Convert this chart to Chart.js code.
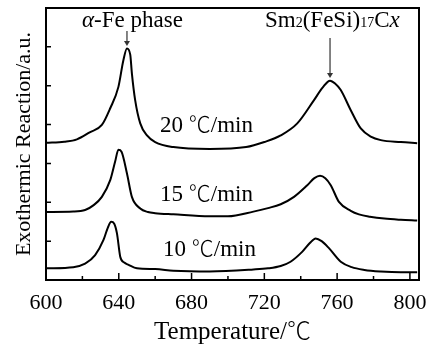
<!DOCTYPE html>
<html>
<head>
<meta charset="utf-8">
<script src="https://cdn.jsdelivr.net/npm/chart.js@4.4.1/dist/chart.umd.min.js"></script>
<style>
  body { margin: 0; background: #fff; }
  #wrap { width: 431px; height: 345px; }
</style>
</head>
<body>
<div id="wrap"><canvas id="dsc" width="431" height="345"></canvas></div>
<script>
// x tick labels (temperature, deg C)
const xTicks = [600, 640, 680, 720, 760, 800];

// 20 C/min curve
const temp20 = [600, 610, 617, 624, 630.7, 635.3, 639.8, 642.5, 644.5, 646.3, 647.2, 649, 651.8, 655.5, 660, 670, 690, 710, 720, 729, 738.1, 747.3, 752, 756.1, 759, 762, 767.5, 773, 778.5, 784, 795, 804];
const heat20 = [3.53, 3.56, 3.62, 3.80, 3.99, 4.42, 4.97, 5.65, 5.96, 5.80, 5.32, 4.63, 4.03, 3.72, 3.55, 3.42, 3.37, 3.42, 3.55, 3.72, 4.03, 4.63, 4.95, 5.13, 5.05, 4.89, 4.37, 3.90, 3.69, 3.60, 3.55, 3.52];

// 15 C/min curve
const temp15 = [600, 615, 621.5, 626, 630.7, 635.3, 638, 639.8, 641.5, 644.5, 647.2, 651.8, 656, 660, 670, 690, 700, 714, 722, 729, 736.3, 743.6, 747.5, 750.6, 753.5, 756.5, 761, 767.5, 772, 778, 786, 795, 804];
const heat15 = [1.75, 1.76, 1.80, 1.92, 2.14, 2.57, 3.05, 3.35, 3.30, 2.74, 2.14, 1.84, 1.75, 1.72, 1.69, 1.64, 1.64, 1.76, 1.85, 1.95, 2.14, 2.44, 2.62, 2.68, 2.62, 2.44, 2.01, 1.78, 1.69, 1.63, 1.58, 1.55, 1.53];

// 10 C/min curve
const temp10 = [600, 615, 621.5, 627, 631.6, 634, 635.8, 637.5, 639, 640.8, 643, 645.4, 650, 660, 670, 690, 714, 722, 729, 734.4, 740.9, 745, 748.2, 751.5, 755.5, 762, 768, 775, 784, 795, 804];
const heat10 = [0.30, 0.33, 0.42, 0.64, 1.03, 1.35, 1.50, 1.45, 1.20, 0.60, 0.45, 0.39, 0.30, 0.28, 0.24, 0.22, 0.27, 0.30, 0.36, 0.47, 0.73, 0.95, 1.07, 1.00, 0.82, 0.47, 0.33, 0.26, 0.22, 0.20, 0.20];

// peak markers
const fePeak = 644.5;
const smPeak = 756.1;

const SERIF = '"Liberation Serif", serif';
const DEG = '"Noto Sans CJK SC", sans-serif';

function toPoints(xs, ys) {
    return xs.map((x, i) => ({ x: x, y: ys[i] }));
}

function curve(label, xs, ys) {
    return {
        label: label,
        data: toPoints(xs, ys),
        borderColor: '#000',
        borderWidth: 2,
        pointRadius: 0,
        fill: false,
        cubicInterpolationMode: 'monotone'
    };
}

// draws a run of [text, font] pieces left to right
function drawRun(ctx, parts, x, y) {
    parts.forEach(p => {
        ctx.font = p[1];
        ctx.fillText(p[0], x, y);
        x += ctx.measureText(p[0]).width;
    });
    return x;
}

function runWidth(ctx, parts) {
    let w = 0;
    parts.forEach(p => { ctx.font = p[1]; w += ctx.measureText(p[0]).width; });
    return w;
}

// frame, inward ticks, labels and arrows
const decorations = {
    id: 'decorations',
    afterDraw(chart) {
        const ctx = chart.ctx;
        const a = chart.chartArea;
        const xs = chart.scales.x;
        const ys = chart.scales.y;
        ctx.save();
        ctx.strokeStyle = '#000';
        ctx.lineWidth = 1.5;
        ctx.beginPath();
        for (let t = 620; t <= 800; t += 20) {
            const px = xs.getPixelForValue(t);
            const len = (t % 40 === 0) ? 7 : 4;
            ctx.moveTo(px, a.bottom);
            ctx.lineTo(px, a.bottom - len);
        }
        for (let v = 1; v < 7; v++) {
            const py = ys.getPixelForValue(v);
            ctx.moveTo(a.left, py);
            ctx.lineTo(a.left + 5, py);
        }
        ctx.stroke();

        ctx.lineWidth = 2;
        ctx.strokeRect(a.left, a.top, a.right - a.left, a.bottom - a.top);

        // arrows
        function arrow(x, y1, y2) {
            ctx.strokeStyle = '#333';
            ctx.fillStyle = '#333';
            ctx.lineWidth = 1.2;
            ctx.beginPath();
            ctx.moveTo(x, y1);
            ctx.lineTo(x, y2 - 4);
            ctx.stroke();
            ctx.beginPath();
            ctx.moveTo(x - 3, y2 - 5);
            ctx.lineTo(x + 3, y2 - 5);
            ctx.lineTo(x, y2);
            ctx.closePath();
            ctx.fill();
        }
        arrow(xs.getPixelForValue(fePeak), 31, 46);
        arrow(xs.getPixelForValue(smPeak), 38, 78);

        ctx.fillStyle = '#000';
        ctx.textBaseline = 'alphabetic';
        ctx.textAlign = 'left';

        const body = '23px ' + SERIF;
        const deg = '300 22px ' + DEG;

        // rate labels
        [['20 ', 160, 132], ['15 ', 160, 201], ['10 ', 163, 256]].forEach(r => {
            drawRun(ctx, [[r[0], body], ['\u2103', deg], ['/min', body]], r[1], r[2]);
        });

        // alpha-Fe label
        drawRun(ctx, [['\u03b1', 'italic ' + body], ['-Fe phase', body]], 82, 27);

        // Sm2(FeSi)17Cx label
        drawRun(ctx, [
            ['Sm', body], ['2', '14px ' + SERIF], ['(FeSi)', body],
            ['17', '14px ' + SERIF], ['C', body], ['x', 'italic ' + body]
        ], 265, 27);

        // x axis title
        const title = [['Temperature/', '25px ' + SERIF], ['\u2103', '300 24px ' + DEG]];
        const w = runWidth(ctx, title);
        drawRun(ctx, title, (a.left + a.right) / 2 - w / 2, 339);
        ctx.restore();
    }
};

new Chart(document.getElementById('dsc'), {
    type: 'line',
    data: {
        datasets: [
            curve('20 \u2103/min', temp20, heat20),
            curve('15 \u2103/min', temp15, heat15),
            curve('10 \u2103/min', temp10, heat10)
        ]
    },
    options: {
        responsive: false,
        animation: false,
        layout: { padding: { left: 0, top: 8, right: 12, bottom: 0 } },
        plugins: {
            legend: { display: false },
            tooltip: { enabled: false }
        },
        scales: {
            x: {
                type: 'linear',
                min: 600,
                max: 805,
                afterBuildTicks: (s) => { s.ticks = xTicks.map(v => ({ value: v })); },
                afterFit: (s) => { s.height = 65; },
                grid: { display: false },
                border: { display: false },
                ticks: {
                    color: '#000',
                    font: { family: SERIF, size: 22 },
                    padding: 2,
                    maxRotation: 0
                }
            },
            y: {
                min: 0,
                max: 7,
                afterFit: (s) => { s.width = 46; },
                grid: { display: false },
                border: { display: false },
                ticks: { display: false, stepSize: 1 },
                title: {
                    display: true,
                    text: 'Exothermic Reaction/a.u.',
                    color: '#000',
                    font: { family: SERIF, size: 22 },
                    padding: { top: 11, bottom: 0 }
                }
            }
        }
    },
    plugins: [decorations]
});
</script>
</body>
</html>
